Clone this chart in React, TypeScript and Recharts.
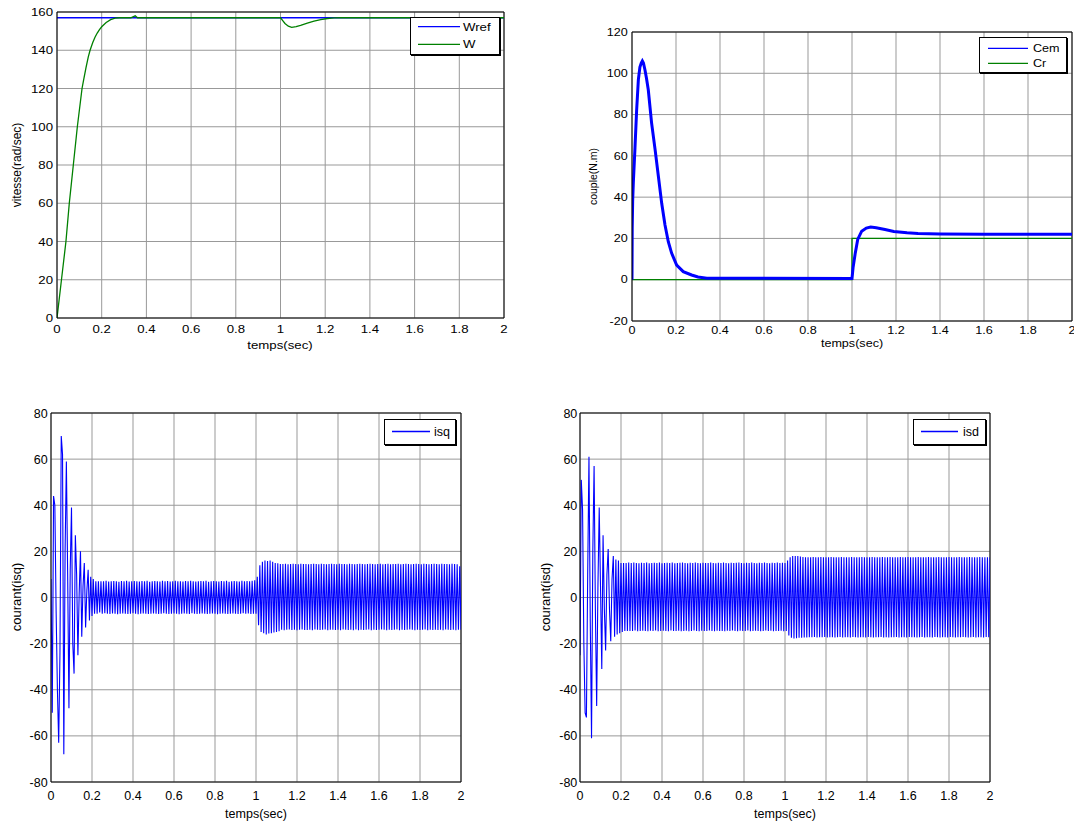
import React from 'react';
import { LineChart, Line, XAxis, YAxis, CartesianGrid, ReferenceLine, Legend } from 'recharts';

const FONT = '"Liberation Sans", Arial, Helvetica, sans-serif';
const BLUE = '#0000ff';
const GREEN = '#008000';
const GRID = '#999999';

// Axis ticks
const timeTicks = [0, 0.2, 0.4, 0.6, 0.8, 1, 1.2, 1.4, 1.6, 1.8, 2];
const speedTicks = [0, 20, 40, 60, 80, 100, 120, 140, 160];
const torqueTicks = [-20, 0, 20, 40, 60, 80, 100, 120];
const currentTicks = [-80, -60, -40, -20, 0, 20, 40, 60, 80];

// Rotor speed (rad/sec): reference and measured
const wrefTime = [0, 2];
const wrefValues = [157, 157];
const wTime = [
  0, 0.02, 0.04, 0.055, 0.073, 0.091, 0.112, 0.12, 0.13, 0.14, 0.148, 0.16, 0.17, 0.18, 0.19, 0.2,
  0.22, 0.24, 0.26, 0.28, 0.33, 0.35, 0.36, 0.4, 1.0, 1.01, 1.02, 1.035, 1.05, 1.07, 1.09, 1.12,
  1.15, 1.18, 1.21, 1.24, 1.27, 2.0,
];
const wValues = [
  0, 20, 40, 60, 80, 100, 120, 125, 131, 136.5, 140, 144, 146.8, 149, 150.8, 152.3,
  154.5, 156, 156.8, 157, 157, 158, 157, 157, 157, 155.5, 154, 152.6, 152, 152.3, 153, 154.2,
  155.2, 156, 156.6, 156.9, 157, 157,
];

// Electromagnetic torque and load torque (N.m)
const cemTime = [
  0, 0.001, 0.003, 0.006, 0.0136, 0.021, 0.029, 0.036, 0.042, 0.047, 0.052, 0.059, 0.066, 0.074,
  0.089, 0.105, 0.12, 0.135, 0.15, 0.165, 0.18, 0.203, 0.233, 0.271, 0.3, 0.34, 1.0, 1.005, 1.015,
  1.026, 1.044, 1.065, 1.085, 1.11, 1.15, 1.19, 1.25, 1.3, 1.4, 1.6, 2.0,
];
const cemValues = [
  0, 25, 38, 47, 64, 82, 97, 103, 105, 106, 105, 101.6, 97.5, 92,
  76, 63, 50, 37, 26.5, 18.4, 12.9, 7.1, 3.9, 2.3, 1.3, 0.7, 0.6, 6, 13,
  19.5, 23.5, 25, 25.5, 25.2, 24.3, 23.4, 22.7, 22.4, 22.2, 22, 22,
];
const crTime = [0, 1, 1, 2];
const crValues = [0, 0, 20, 20];

// Stator currents, one sample every 6.25 ms from 0 to 2 s
const currentStep = 0.00625;
const isqValues = [
  8, -50, 44, 40, -6, -40, -63, -24, 70, 62, -68, 20, 59, 10, -48, 12, 39, -20, -33, 27,
  10, -25, 2, 20, -17, 5, 15, -13, 3, 12, -10, 9, -8, 8, -7, 7, -7, 7, -6.5, 7,
  -7, 7, -6.8, 7.2, -7, 6.9, -7.1, 7, -6.9, 7.1, -7, 7, -7.2, 6.8, -7, 7.1, -6.9, 7, -7, 7.2,
  -7.1, 6.9, -7, 7, -6.8, 7.1, -7, 7, -7.2, 6.9, -7, 7.1, -6.9, 7, -7, 7.2, -7.1, 6.8, -7, 7,
  -6.9, 7.1, -7, 7, -7.1, 6.9, -7, 7.2, -6.8, 7, -7, 7.1, -7.1, 6.9, -7, 7, -6.9, 7.2, -7, 7,
  -7.2, 7, -7, 6.9, -6.9, 7.1, -7, 7, -7.1, 7.2, -6.8, 7, -7, 6.9, -7.1, 7, -7, 7.1, -6.9, 7,
  -7, 7.2, -7.1, 6.8, -7, 7, -6.9, 7.1, -7, 7, -7.2, 6.9, -7, 7.1, -6.9, 7, -7, 7.2, -7.1, 6.8,
  -7, 7, -6.9, 7.1, -7, 7, -7.1, 6.9, -7, 7.2, -6.8, 7, -7, 7.1, -6.9, 7, -7.1, 7.2, -7, 7.5,
  -7, 9, -12, 14, -15, 15.5, -15.5, 16, -16, 15.8, -15.6, 16, -15.5, 15.5, -15.2, 15, -15, 14.8, -14.6, 14.5,
  -14, 14.5, -14.2, 14.6, -14, 14.4, -13.9, 14.5, -14.1, 14.6, -14, 14.5, -14.2, 14.4, -14, 14.6, -13.9, 14.5, -14.1, 14.5,
  -14.1, 14.4, -14, 14.5, -14.2, 14.6, -13.9, 14.5, -14, 14.4, -14.1, 14.6, -14, 14.5, -13.9, 14.4, -14.2, 14.5, -14, 14.6,
  -14, 14.5, -14.1, 14.4, -14, 14.6, -14.2, 14.5, -13.9, 14.5, -14, 14.4, -14.1, 14.6, -14, 14.5, -14.2, 14.4, -13.9, 14.5,
  -14.2, 14.6, -14, 14.5, -14.1, 14.4, -14, 14.5, -13.9, 14.6, -14.2, 14.5, -14, 14.4, -14.1, 14.5, -14, 14.6, -13.9, 14.4,
  -14, 14.5, -14.2, 14.6, -14, 14.4, -14.1, 14.5, -14, 14.5, -13.9, 14.6, -14.2, 14.4, -14, 14.5, -14.1, 14.6, -14, 14.5,
  -13.9, 14.4, -14, 14.5, -14.2, 14.6, -14, 14.5, -14.1, 14.4, -14, 14.6, -13.9, 14.5, -14.2, 14.4, -14, 14.5, -14.1, 14.6,
  -14, 14.5, -14.1, 14.4, -14, 14.6, -14.2, 14.5, -13.9, 14.5, -14, 14.4, -14.1, 14.6, -14, 14.5, -14.2, 14.4, -14, 13.5,
  -14,
];
const isdValues = [
  -25, 51, 38, -20, -50, -52, 10, 61, -10, -61, 20, 57, -5, -47, 5, 39, 5, -31, 27, -5,
  -23, 10, 21, -5, -19, 8, 18, -17, 16.5, -16, 16, -15.5, 15, -15, 15, -14.5, 15, -14.5, 15.2, -14.5,
  15, -14.5, 15.2, -14.3, 15, -14.6, 14.9, -14.5, 15.1, -14.4, 15, -14.5, 15.2, -14.6, 14.9, -14.4, 15, -14.5, 15.1, -14.3,
  15, -14.6, 15.2, -14.5, 14.9, -14.4, 15, -14.5, 15.1, -14.6, 15, -14.3, 15.2, -14.5, 14.9, -14.5, 15, -14.4, 15.1, -14.6,
  15.2, -14.5, 15, -14.4, 14.9, -14.6, 15.1, -14.5, 15, -14.3, 15.2, -14.5, 15, -14.6, 14.9, -14.4, 15.1, -14.5, 15, -14.5,
  15, -14.3, 15.2, -14.5, 15, -14.6, 14.9, -14.4, 15.1, -14.5, 15, -14.5, 15.2, -14.6, 15, -14.4, 14.9, -14.5, 15.1, -14.3,
  15, -14.5, 15.1, -14.6, 15.2, -14.4, 15, -14.5, 14.9, -14.5, 15.1, -14.3, 15, -14.6, 15.2, -14.5, 15, -14.4, 14.9, -14.5,
  15.1, -14.6, 15, -14.5, 15.2, -14.3, 15, -14.5, 14.9, -14.4, 15.1, -14.6, 15, -14.5, 15.2, -14.5, 15, -14.4, 15.1, -14.6,
  15, -14.5, 16, -16.5, 17.5, -17.5, 18, -17.8, 18, -17.7, 18, -17.5, 17.8, -17.5, 17.6, -17.3, 17.5, -17.3, 17.5, -17.2,
  17.5, -17.2, 17.6, -17.1, 17.4, -17.3, 17.5, -17.2, 17.6, -17.2, 17.5, -17.1, 17.4, -17.3, 17.5, -17.2, 17.6, -17.2, 17.5, -17.3,
  17.4, -17.2, 17.5, -17.1, 17.6, -17.3, 17.5, -17.2, 17.4, -17.2, 17.5, -17.3, 17.6, -17.1, 17.5, -17.2, 17.4, -17.3, 17.5, -17.2,
  17.6, -17.2, 17.5, -17.3, 17.4, -17.1, 17.5, -17.2, 17.6, -17.3, 17.5, -17.2, 17.4, -17.2, 17.5, -17.1, 17.6, -17.3, 17.5, -17.2,
  17.5, -17.3, 17.6, -17.2, 17.4, -17.2, 17.5, -17.1, 17.5, -17.3, 17.6, -17.2, 17.4, -17.2, 17.5, -17.3, 17.6, -17.1, 17.5, -17.2,
  17.4, -17.2, 17.5, -17.3, 17.6, -17.2, 17.5, -17.1, 17.4, -17.3, 17.5, -17.2, 17.6, -17.2, 17.5, -17.3, 17.4, -17.1, 17.5, -17.2,
  17.6, -17.3, 17.5, -17.2, 17.4, -17.2, 17.5, -17.3, 17.6, -17.1, 17.5, -17.2, 17.4, -17.3, 17.5, -17.2, 17.6, -17.2, 17.5, -17.1,
  17.5, -17.2, 17.4, -17.3, 17.6, -17.2, 17.5, -17.1, 17.5, -17.3, 17.4, -17.2, 17.6, -17.2, 17.5, -17.3, 17.4, -17.1, 17.5, -17.2,
  17.5,
];

type Pt = { t: number; v: number };
const pairUp = (t: number[], v: number[]): Pt[] => t.map((x, i) => ({ t: x, v: v[i] }));
const sampled = (v: number[]): Pt[] => v.map((y, i) => ({ t: i * currentStep, v: y }));

type Series = { name: string; color: string; width: number; points: Pt[] };
type LegendSpec = {
  left: number; top: number; width: number; height: number;
  rows: number[]; x1: number; x2: number; tx: number;
};
type TextStyle = { size: number; sx: number };

type PanelProps = {
  left: number; top: number; width: number; height: number;
  margin: { top: number; right: number; bottom: number; left: number };
  yAxisWidth: number; xAxisHeight: number;
  yDomain: [number, number]; yTicks: number[];
  series: Series[]; legendOrder: string[]; legend: LegendSpec;
  font: TextStyle; xTickDy: number; yTickGap: number;
  yTitle: string; yTitleX: number; yTitleY: number; yTitleSize: number;
  xTitleX: number; xTitleY: number;
};

function Panel(p: PanelProps) {
  const { font } = p;
  const capHalf = font.size * 0.36;
  const xTick = (props: any) => (
    <text
      transform={`translate(${props.x},${props.y + p.xTickDy}) scale(${font.sx},1)`}
      textAnchor="middle" fontFamily={FONT} fontSize={font.size} fill="#000"
    >
      {String(props.payload.value)}
    </text>
  );
  const yTick = (props: any) => (
    <text
      transform={`translate(${props.x - p.yTickGap},${props.y + capHalf}) scale(${font.sx},1)`}
      textAnchor="end" fontFamily={FONT} fontSize={font.size} fill="#000"
    >
      {String(props.payload.value)}
    </text>
  );
  const lg = p.legend;
  const legendContent = (props: any) => {
    const payload: any[] = props.payload || [];
    const items = p.legendOrder
      .map((n) => payload.find((e) => e.value === n))
      .filter(Boolean);
    return (
      <svg width={lg.width + 2} height={lg.height + 2} style={{ display: 'block' }}>
        <rect x={0.5} y={0.5} width={lg.width} height={lg.height} fill="#fff" stroke="#000" strokeWidth={1} />
        <line x1={lg.width + 1.5} y1={1} x2={lg.width + 1.5} y2={lg.height + 2} stroke="#000" strokeWidth={1} />
        <line x1={1} y1={lg.height + 1.5} x2={lg.width + 2} y2={lg.height + 1.5} stroke="#000" strokeWidth={1} />
        {items.map((e: any, i: number) => (
          <g key={e.value}>
            <line x1={lg.x1} x2={lg.x2} y1={lg.rows[i]} y2={lg.rows[i]} stroke={e.color} strokeWidth={1.3} />
            <text
              transform={`translate(${lg.tx},${lg.rows[i] + capHalf}) scale(${font.sx},1)`}
              fontFamily={FONT} fontSize={font.size} fill="#000"
            >
              {e.value}
            </text>
          </g>
        ))}
      </svg>
    );
  };

  return (
    <div style={{ position: 'absolute', left: p.left, top: p.top, width: p.width, height: p.height }}>
      <LineChart width={p.width} height={p.height} margin={p.margin}>
        <CartesianGrid stroke={GRID} strokeWidth={1} />
        <XAxis
          dataKey="t" type="number" domain={[0, 2]} ticks={timeTicks} interval={0} allowDataOverflow
          height={p.xAxisHeight} tickSize={0} tickMargin={0} tickLine={false}
          axisLine={{ stroke: '#000', strokeWidth: 1 }} tick={xTick}
        />
        <YAxis
          type="number" domain={p.yDomain} ticks={p.yTicks} interval={0} allowDataOverflow
          width={p.yAxisWidth} tickSize={0} tickMargin={0} tickLine={false}
          axisLine={{ stroke: '#000', strokeWidth: 1 }} tick={yTick}
        />
        <ReferenceLine x={2} stroke="#000" strokeWidth={1} />
        <ReferenceLine y={p.yDomain[1]} stroke="#000" strokeWidth={1} />
        {p.series.map((s) => (
          <Line
            key={s.name} data={s.points} dataKey="v" name={s.name} type="linear"
            stroke={s.color} strokeWidth={s.width} dot={false} activeDot={false}
            isAnimationActive={false}
          />
        ))}
        <Legend
          layout="vertical" align="center" verticalAlign="middle"
          wrapperStyle={{ position: 'absolute', left: lg.left, top: lg.top, width: lg.width + 2, height: lg.height + 2, margin: 0, padding: 0 }}
          content={legendContent}
        />
        <text
          transform={`translate(${p.yTitleX},${p.yTitleY}) rotate(-90)`}
          textAnchor="middle" dominantBaseline="central"
          fontFamily={FONT} fontSize={p.yTitleSize} fill="#000"
        >
          {p.yTitle}
        </text>
        <text
          transform={`translate(${p.xTitleX},${p.xTitleY}) scale(${font.sx},1)`}
          textAnchor="middle" fontFamily={FONT} fontSize={font.size} fill="#000"
        >
          temps(sec)
        </text>
      </LineChart>
    </div>
  );
}

export default function App() {
  const speedSeries: Series[] = [
    { name: 'Wref', color: BLUE, width: 1.3, points: pairUp(wrefTime, wrefValues) },
    { name: 'W', color: GREEN, width: 1.3, points: pairUp(wTime, wValues) },
  ];
  const torqueSeries: Series[] = [
    { name: 'Cr', color: GREEN, width: 1.3, points: pairUp(crTime, crValues) },
    { name: 'Cem', color: BLUE, width: 3, points: pairUp(cemTime, cemValues) },
  ];
  const isqSeries: Series[] = [{ name: 'isq', color: BLUE, width: 1.1, points: sampled(isqValues) }];
  const isdSeries: Series[] = [{ name: 'isd', color: BLUE, width: 1.1, points: sampled(isdValues) }];

  return (
    <div style={{ position: 'absolute', left: 0, top: 0, width: 1074, height: 823, background: '#fff', overflow: 'hidden' }}>
      <Panel
        left={0} top={0} width={520} height={360}
        margin={{ top: 12, right: 16, bottom: 0, left: 0 }} yAxisWidth={57} xAxisHeight={42}
        yDomain={[0, 160]} yTicks={speedTicks} series={speedSeries} legendOrder={['Wref', 'W']}
        legend={{ left: 410, top: 17, width: 89, height: 37, rows: [9.7, 27.3], x1: 8, x2: 50, tx: 53 }}
        font={{ size: 11.5, sx: 1.15 }} xTickDy={15} yTickGap={4}
        yTitle="vitesse(rad/sec)" yTitleX={17} yTitleY={165} yTitleSize={12}
        xTitleX={280} xTitleY={349}
      />
      <Panel
        left={560} top={0} width={514} height={360}
        margin={{ top: 32, right: 2, bottom: 0, left: 0 }} yAxisWidth={72} xAxisHeight={39}
        yDomain={[-20, 120]} yTicks={torqueTicks} series={torqueSeries} legendOrder={['Cem', 'Cr']}
        legend={{ left: 419, top: 37, width: 87, height: 35, rows: [11.3, 26.3], x1: 9, x2: 49, tx: 54 }}
        font={{ size: 10.5, sx: 1.2 }} xTickDy={12.8} yTickGap={4.3}
        yTitle="couple(N.m)" yTitleX={32.7} yTitleY={176.5} yTitleSize={10.5}
        xTitleX={292} xTitleY={346.8}
      />
      <Panel
        left={0} top={380} width={520} height={443}
        margin={{ top: 33, right: 59, bottom: 0, left: 0 }} yAxisWidth={51} xAxisHeight={41}
        yDomain={[-80, 80]} yTicks={currentTicks} series={isqSeries} legendOrder={['isq']}
        legend={{ left: 384, top: 39, width: 71, height: 25, rows: [12.5], x1: 8, x2: 46, tx: 50 }}
        font={{ size: 12.5, sx: 1 }} xTickDy={17.5} yTickGap={3.3}
        yTitle="courant(isq)" yTitleX={16} yTitleY={217} yTitleSize={13}
        xTitleX={256} xTitleY={437.5}
      />
      <Panel
        left={530} top={380} width={544} height={443}
        margin={{ top: 33, right: 84, bottom: 0, left: 0 }} yAxisWidth={50} xAxisHeight={41}
        yDomain={[-80, 80]} yTicks={currentTicks} series={isdSeries} legendOrder={['isd']}
        legend={{ left: 383, top: 39, width: 72, height: 25, rows: [12.5], x1: 8, x2: 45, tx: 50 }}
        font={{ size: 12.5, sx: 1 }} xTickDy={17.5} yTickGap={2.7}
        yTitle="courant(isd)" yTitleX={15} yTitleY={217} yTitleSize={13}
        xTitleX={255} xTitleY={437.5}
      />
    </div>
  );
}
